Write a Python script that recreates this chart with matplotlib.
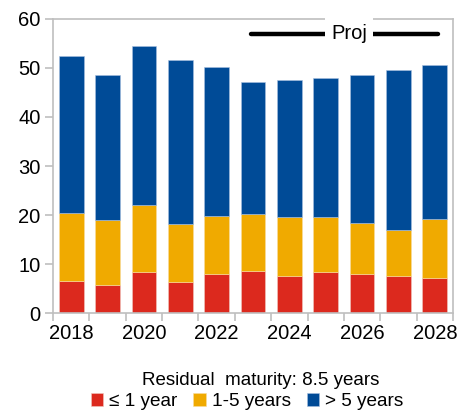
import numpy as np
import matplotlib.pyplot as plt

plt.rcParams['font.family'] = ['Liberation Sans', 'DejaVu Sans']

years = [2018, 2019, 2020, 2021, 2022, 2023, 2024, 2025, 2026, 2027, 2028]
total = [52.4, 48.6, 54.5, 51.6, 50.1, 47.1, 47.5, 48.0, 48.6, 49.5, 50.7]
upto5 = [20.5, 19.0, 22.0, 18.2, 19.9, 20.2, 19.6, 19.6, 18.4, 17.0, 19.3]
upto1 = [6.5, 5.7, 8.4, 6.3, 8.0, 8.6, 7.5, 8.4, 8.0, 7.5, 7.2]
labels = ['≤ 1 year', '1-5 years', '> 5 years']
colors = ['#dc291e', '#f0aa00', '#004b97']

short = np.array(upto1)
mid = np.array(upto5) - short
long_ = np.array(total) - np.array(upto5)

fig = plt.figure(figsize=(4.59, 4.11), dpi=100)
ax = fig.add_axes([0.1155, 0.238, 0.8715, 0.716])

x = np.arange(len(years))
w = 0.68
ax.bar(x, short, w, color=colors[0], label=labels[0], edgecolor='#f0c8c0', linewidth=0.4)
ax.bar(x, mid, w, bottom=short, color=colors[1], label=labels[1], edgecolor='#f8dca0', linewidth=0.4)
ax.bar(x, long_, w, bottom=short + mid, color=colors[2], label=labels[2], edgecolor='#a8c0e0', linewidth=0.4)

ax.set_xlim(-0.5, len(years) - 0.5)
ax.set_ylim(0, 60)
ax.set_yticks(range(0, 61, 10))

# tick marks at bar boundaries, labels every second year
ax.set_xticks(np.arange(-0.5, len(years), 1.0))
ax.set_xticklabels([])
ax.set_xticks(x[::2], minor=True)
ax.set_xticklabels([str(y) for y in years[::2]], minor=True)
ax.tick_params(axis='x', which='minor', length=0, labelsize=14.5, pad=8)
ax.tick_params(axis='x', which='major', length=6, color='#bfbfbf', width=1.2)
ax.tick_params(axis='y', length=6, color='#bfbfbf', width=1.2, labelsize=14.5, pad=3)

for s in ax.spines.values():
    s.set_color('#bfbfbf')
    s.set_linewidth(1.2)

# projection marker
ax.plot([4.95, 10.1], [56.9, 56.9], color='black', lw=3.2, solid_capstyle='round', clip_on=False)
ax.text(7.64, 57.0, 'Proj', ha='center', va='center', fontsize=14.5,
        bbox=dict(facecolor='white', edgecolor='none', pad=4.5), zorder=5, clip_on=False)

fig.text(0.569, 0.073, 'Residual  maturity: 8.5 years', ha='center', va='center', fontsize=13.5)
fig.legend(loc='center', bbox_to_anchor=(0.538, 0.022), ncol=3, frameon=False,
           fontsize=13.7, handlelength=0.65, handleheight=0.65, handletextpad=0.3,
           columnspacing=0.85, borderpad=0.1)

fig.savefig('out.png', dpi=100)
